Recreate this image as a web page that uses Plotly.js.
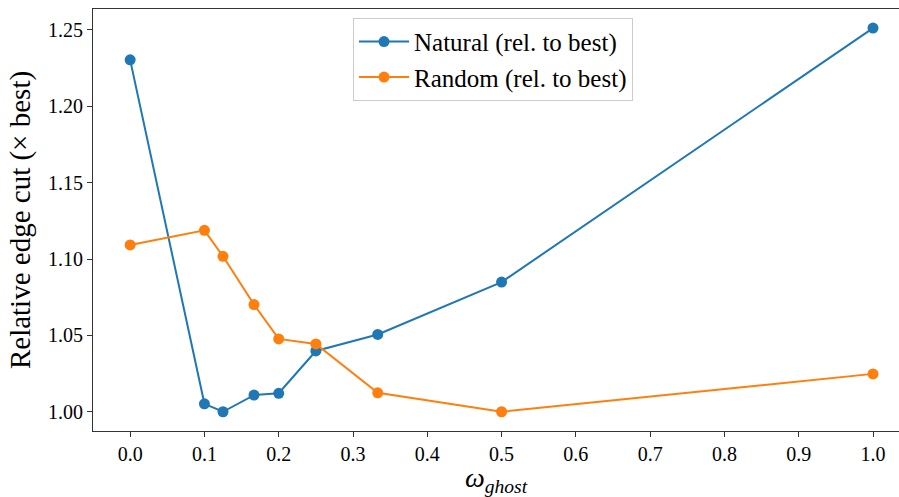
<!DOCTYPE html>
<html>
<head>
<meta charset="utf-8">
<script src="https://cdn.plot.ly/plotly-3.0.1.min.js"></script>
<style>html,body{margin:0;padding:0;background:#fff;}#chart{width:899px;height:497px;}</style>
</head>
<body>
<div id="chart"></div>
<script>
const omega = [0.0, 0.1, 0.125, 0.1667, 0.2, 0.25, 0.3333, 0.5, 1.0];
const naturalRel = [1.2304, 1.0052, 1.0, 1.0109, 1.0121, 1.0398, 1.0506, 1.0849, 1.2512];
const randomRel = [1.1092, 1.1188, 1.1018, 1.0702, 1.0477, 1.0444, 1.0124, 1.0, 1.0248];
const xTicks = [0.0, 0.1, 0.2, 0.3, 0.4, 0.5, 0.6, 0.7, 0.8, 0.9, 1.0];
const xTickText = ["0.0","0.1","0.2","0.3","0.4","0.5","0.6","0.7","0.8","0.9","1.0"];
const yTicks = [1.00, 1.05, 1.10, 1.15, 1.20, 1.25];
const yTickText = ["1.00","1.05","1.10","1.15","1.20","1.25"];
const seriesNames = ["Natural (rel. to best)", "Random (rel. to best)"];

const FONT = "Liberation Serif, DejaVu Serif, serif";
const traces = [
  {x: omega, y: naturalRel, name: seriesNames[0], mode: "lines+markers", type: "scatter",
   line: {color: "#1f77b4", width: 2}, marker: {color: "#1f77b4", size: 11}},
  {x: omega, y: randomRel, name: seriesNames[1], mode: "lines+markers", type: "scatter",
   line: {color: "#ff7f0e", width: 2}, marker: {color: "#ff7f0e", size: 11}}
];
const layout = {
  width: 899, height: 497,
  margin: {l: 93, r: 0, t: 9, b: 66, pad: 0},
  paper_bgcolor: "#fff", plot_bgcolor: "#fff",
  font: {family: FONT, color: "#000", size: 20},
  showlegend: true,
  legend: {x: 0.3226, y: 0.979, xanchor: "left", yanchor: "top",
    bgcolor: "rgba(255,255,255,0.8)", bordercolor: "#cccccc", borderwidth: 1,
    font: {family: FONT, size: 25, color: "#000"}, tracegroupgap: 0, itemwidth: 50},
  xaxis: {range: [-0.05, 1.035], tickvals: xTicks, ticktext: xTickText,
    showgrid: false, zeroline: false, showline: true, linecolor: "#333", linewidth: 1,
    mirror: true, ticks: "outside", ticklen: 5, tickcolor: "#333",
    tickfont: {family: FONT, size: 20},
    title: {text: "<i>ω</i><sub><i>ghost</i></sub>", font: {family: FONT, size: 28}, standoff: 8}},
  yaxis: {range: [0.9874, 1.2637], tickvals: yTicks, ticktext: yTickText,
    showgrid: false, zeroline: false, showline: true, linecolor: "#333", linewidth: 1,
    mirror: false, ticks: "outside", ticklen: 5, tickcolor: "#333",
    tickfont: {family: FONT, size: 20},
    title: {text: "Relative edge cut (× best)", font: {family: FONT, size: 29}, standoff: 8}}
};
Plotly.newPlot("chart", traces, layout, {displayModeBar: false, staticPlot: true});
</script>
</body>
</html>
